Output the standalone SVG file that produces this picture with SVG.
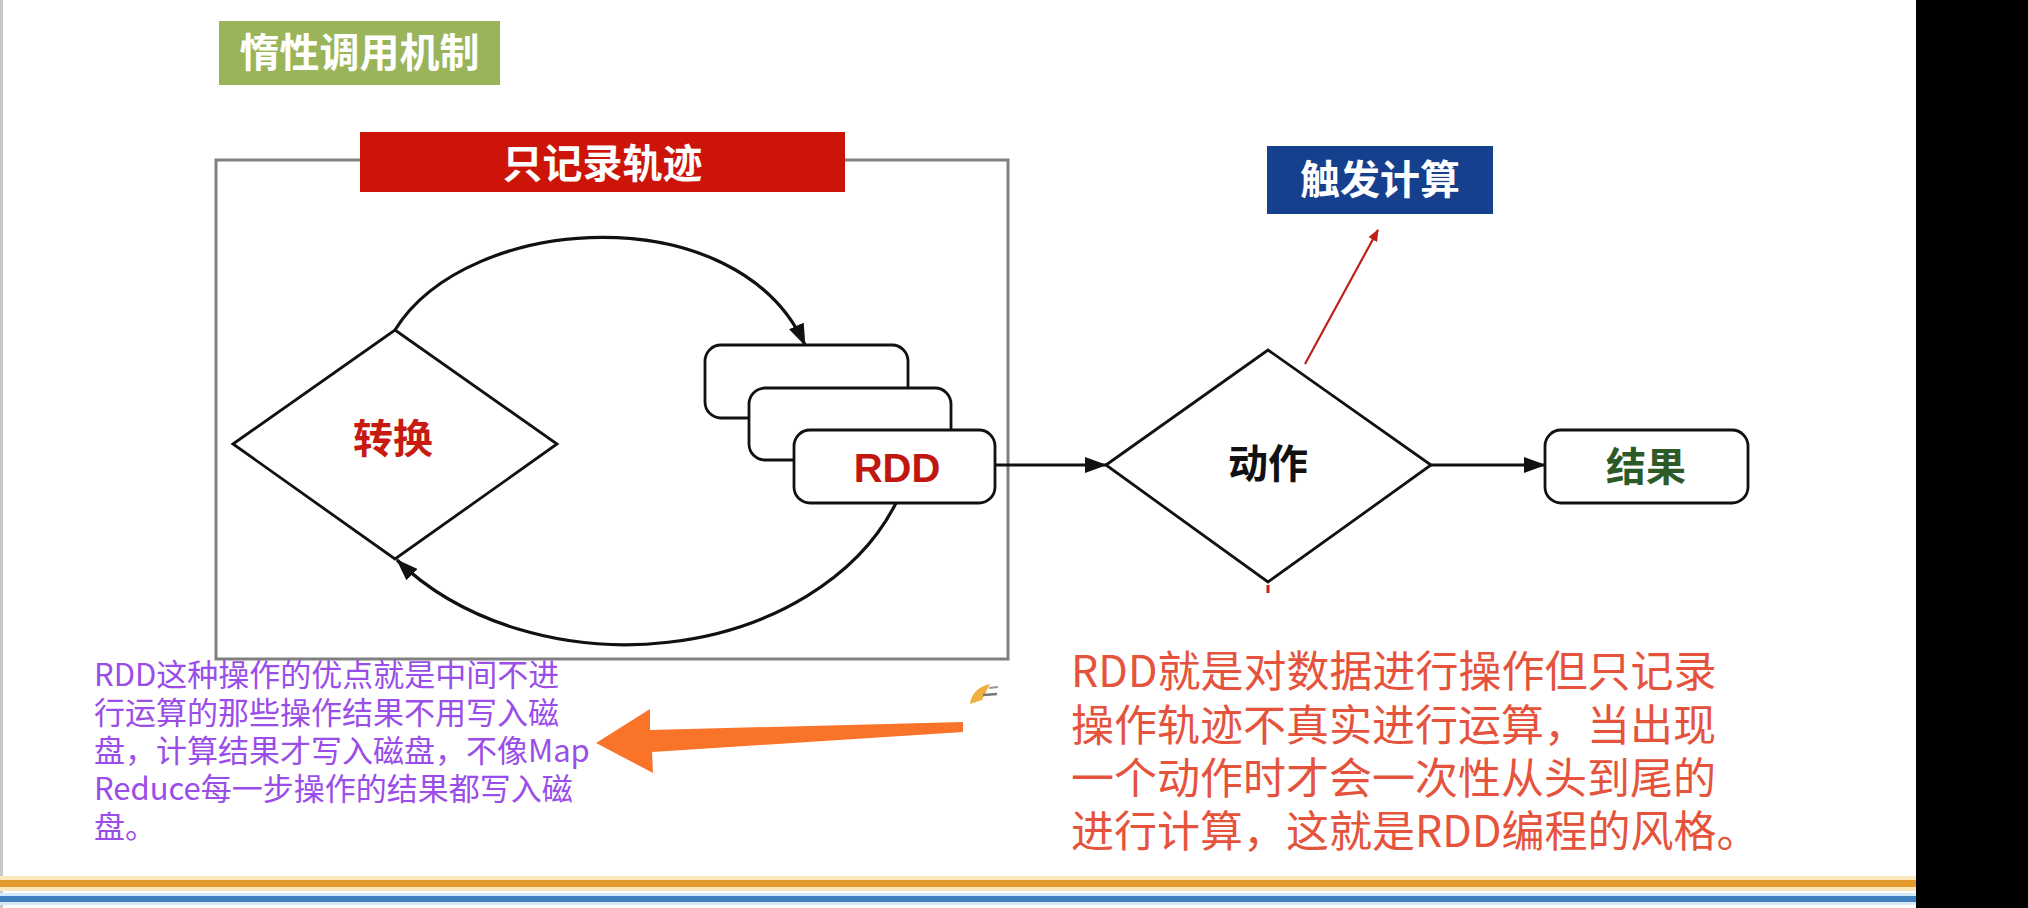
<svg xmlns="http://www.w3.org/2000/svg" width="2028" height="908" viewBox="0 0 2028 908">
  <style>
    .lbl { font-family: "Noto Sans CJK SC", "Liberation Sans", sans-serif; font-weight: 700; font-size: 40px; text-anchor: middle; }
    .shape { fill: #ffffff; stroke: #111111; stroke-width: 2.8; }
    .conn { fill: none; stroke: #111111; stroke-width: 3.2; }
    .note { font-family: "Noto Sans CJK SC", "Liberation Sans", sans-serif; font-weight: 400; }
  </style>
  <defs>
    <marker id="ah" markerUnits="userSpaceOnUse" markerWidth="22" markerHeight="16" viewBox="0 0 22 16" refX="21" refY="8" orient="auto">
      <path d="M0,0 L22,8 L0,16 z" fill="#111111"/>
    </marker>
    <marker id="ahRed" markerUnits="userSpaceOnUse" markerWidth="12" markerHeight="10" viewBox="0 0 12 10" refX="11" refY="5" orient="auto">
      <path d="M0,0 L12,5 L0,10 z" fill="#c0201a"/>
    </marker>
  </defs>

  <rect x="0" y="0" width="2028" height="908" fill="#ffffff"/>
  <rect x="0" y="0" width="3" height="908" fill="#c8c8c8"/>

  <!-- frame -->
  <g id="frame">
    <rect x="216" y="160" width="792" height="499" fill="none" stroke="#808080" stroke-width="3"/>
  </g>

  <g id="title">
    <rect x="219" y="21" width="281" height="64" fill="#9ab45a"/>
    <text class="lbl" x="359.5" y="67" fill="#ffffff">惰性调用机制</text>
  </g>

  <g id="track-label">
    <rect x="360" y="132" width="485" height="60" fill="#cc1408"/>
    <text class="lbl" x="602.5" y="178" fill="#ffffff">只记录轨迹</text>
  </g>

  <g id="trigger">
    <rect x="1267" y="146" width="226" height="68" fill="#163f8e"/>
    <text class="lbl" x="1380" y="194" fill="#ffffff">触发计算</text>
  </g>

  <g id="transform">
    <polygon class="shape" points="233,444 395,330 557,444 395,559"/>
    <text class="lbl" x="393" y="453" fill="#c81a10">转换</text>
  </g>

  <g id="rdd">
    <rect class="shape" x="705" y="345" width="203" height="73" rx="16" ry="16"/>
    <rect class="shape" x="749" y="388" width="202" height="72" rx="16" ry="16"/>
    <rect class="shape" x="794" y="430" width="201" height="73" rx="16" ry="16"/>
    <text x="897" y="482" text-anchor="middle" font-family="Liberation Sans, Arial, sans-serif" font-weight="700" font-size="40" fill="#c0180f">RDD</text>
  </g>

  <g id="action">
    <polygon class="shape" points="1106,465 1268,350 1431,465 1268,582"/>
    <text class="lbl" x="1268" y="478" fill="#111111">动作</text>
  </g>

  <g id="result">
    <rect class="shape" x="1545" y="430" width="203" height="73" rx="16" ry="16"/>
    <text class="lbl" x="1646" y="481" fill="#2d5a27">结果</text>
  </g>

  <g id="connectors">
    <path class="conn" d="M395,330 C468,212 738,196 805,345" marker-end="url(#ah)"/>
    <path class="conn" d="M896,503 A290,221 0 0 1 397,560" marker-end="url(#ah)"/>
    <line class="conn" x1="995" y1="465" x2="1106" y2="465" marker-end="url(#ah)"/>
    <line class="conn" x1="1431" y1="465" x2="1545" y2="465" marker-end="url(#ah)"/>
    <line x1="1305" y1="364" x2="1378" y2="230" stroke="#c0201a" stroke-width="2.2" marker-end="url(#ahRed)"/>
    <line x1="1268" y1="585" x2="1268" y2="593" stroke="#d02010" stroke-width="3"/>
  </g>

  <g id="note-left">
    <text class="note" font-size="31" fill="#9a4de8">
      <tspan x="94" y="686">RDD这种操作的优点就是中间不进</tspan>
      <tspan x="94" y="724">行运算的那些操作结果不用写入磁</tspan>
      <tspan x="94" y="762">盘，计算结果才写入磁盘，不像Map</tspan>
      <tspan x="94" y="800">Reduce每一步操作的结果都写入磁</tspan>
      <tspan x="94" y="838">盘。</tspan>
    </text>
  </g>

  <g id="orange-arrow">
    <polygon points="963,722 650,730 650,709 596,743 653,773 652,752 963,732" fill="#f97428"/>
    <path d="M970,704 Q972,688 990,684 L982,700 Z" fill="#f0b040"/>
    <line x1="983" y1="695" x2="997" y2="694" stroke="#777777" stroke-width="2.5"/>
    <line x1="989" y1="688" x2="998" y2="687" stroke="#999999" stroke-width="2"/>
  </g>

  <g id="note-right">
    <text class="note" font-size="43" fill="#e5533d">
      <tspan x="1071" y="687">RDD就是对数据进行操作但只记录</tspan>
      <tspan x="1071" y="741">操作轨迹不真实进行运算，当出现</tspan>
      <tspan x="1071" y="794">一个动作时才会一次性从头到尾的</tspan>
      <tspan x="1071" y="847">进行计算，这就是RDD编程的风格。</tspan>
    </text>
  </g>

  <g id="footer">
    <rect x="0" y="876" width="1916" height="15" fill="#fbe6bd"/>
    <rect x="0" y="880" width="1916" height="7" fill="#e39a2d"/>
    <rect x="0" y="893" width="1916" height="12" fill="#d5eaf8"/>
    <rect x="0" y="896" width="1916" height="6" fill="#3f7fc0"/>
  </g>

  <rect x="1916" y="0" width="112" height="908" fill="#000000"/>
</svg>
